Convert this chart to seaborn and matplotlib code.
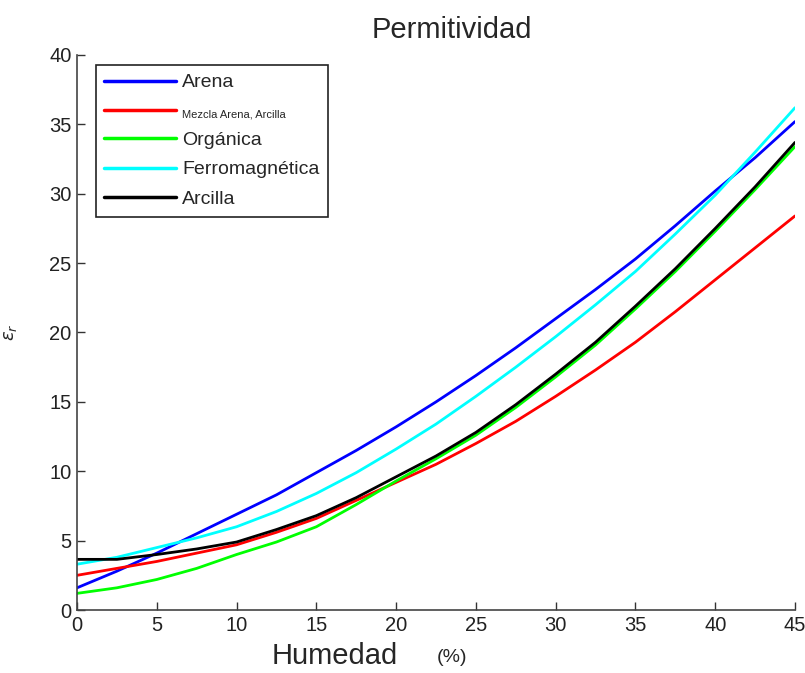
import numpy as np
import matplotlib
matplotlib.use('Agg')
import matplotlib.pyplot as plt
import seaborn as sns
import pandas as pd

# humedad (%) y permitividad relativa por tipo de suelo
humedad = [0, 2.5, 5, 7.5, 10, 12.5, 15, 17.5, 20, 22.5, 25, 27.5, 30, 32.5, 35, 37.5, 40, 42.5, 45]
arena = [1.6, 2.8, 4.1, 5.5, 6.9, 8.3, 9.9, 11.5, 13.2, 15.0, 16.9, 18.9, 21.0, 23.1, 25.3, 27.7, 30.2, 32.6, 35.2]
mezcla = [2.5, 3.0, 3.5, 4.1, 4.7, 5.6, 6.6, 7.9, 9.2, 10.5, 12.0, 13.6, 15.4, 17.3, 19.3, 21.5, 23.8, 26.1, 28.4]
organica = [1.2, 1.6, 2.2, 3.0, 4.0, 4.9, 6.0, 7.6, 9.3, 10.9, 12.6, 14.6, 16.8, 19.1, 21.7, 24.4, 27.3, 30.3, 33.4]
ferro = [3.3, 3.8, 4.5, 5.2, 6.0, 7.1, 8.4, 9.9, 11.6, 13.4, 15.4, 17.5, 19.7, 22.0, 24.4, 27.1, 29.9, 33.0, 36.2]
arcilla = [3.65, 3.65, 4.0, 4.4, 4.9, 5.8, 6.8, 8.1, 9.6, 11.1, 12.8, 14.8, 17.0, 19.3, 21.9, 24.6, 27.5, 30.5, 33.7]

SERIES = {'Arena': arena, 'Mezcla Arena, Arcilla': mezcla, 'Orgánica': organica,
          'Ferromagnética': ferro, 'Arcilla': arcilla}
COLORS = {'Arena': '#0000ff', 'Mezcla Arena, Arcilla': '#ff0000', 'Orgánica': '#00ff00',
          'Ferromagnética': '#00ffff', 'Arcilla': '#000000'}

rows = []
for name, vals in SERIES.items():
    for h, v in zip(humedad, vals):
        rows.append({'Humedad': h, 'eps': v, 'Suelo': name})
data = pd.DataFrame(rows)

sns.set_theme(style='white')
plt.rcParams['font.family'] = ['Liberation Sans', 'DejaVu Sans']
plt.rcParams['xtick.direction'] = 'in'
plt.rcParams['ytick.direction'] = 'in'

fig = plt.figure(figsize=(8.05, 6.73), dpi=100)
ax = fig.add_axes([0.0957, 0.0936, 0.8919, 0.8247])

sns.lineplot(data=data, x='Humedad', y='eps', hue='Suelo', palette=COLORS,
             linewidth=2.0, ax=ax, legend=True)

ax.set_xlim(0, 45)
ax.set_ylim(0, 40)
ax.set_xticks(np.arange(0, 46, 5))
ax.set_yticks(np.arange(0, 41, 5))
ax.tick_params(axis='both', labelsize=14.5, length=6, width=1, color='#333333',
               labelcolor='#222222', bottom=True, left=True, pad=4)
for s in ['top', 'right']:
    ax.spines[s].set_visible(False)
for s in ['left', 'bottom']:
    ax.spines[s].set_color('#444444')
    ax.spines[s].set_linewidth(1.2)

ax.set_xlabel('')
ax.set_ylabel(r'$\epsilon_r$', fontsize=13, family='DejaVu Sans', labelpad=22)

fig.text(0.5615, 0.955, 'Permitividad', ha='center', va='center', fontsize=21)
fig.text(0.4155, 0.004, 'Humedad', ha='center', va='bottom', fontsize=21)
fig.text(0.562, 0.017, '(%)', ha='center', va='baseline', fontsize=14)

handles, labels = ax.get_legend_handles_labels()
leg = ax.legend(handles, labels, loc='upper left', bbox_to_anchor=(0.026, 0.982),
                fontsize=14, frameon=True, fancybox=False, edgecolor='#222222',
                framealpha=1, handlelength=3.7, handletextpad=0.3, labelspacing=0.62,
                borderpad=0.45, borderaxespad=0)
leg.get_frame().set_linewidth(1.2)
for line in leg.get_lines():
    line.set_linewidth(2.5)
leg.get_texts()[1].set_fontsize(8)

fig.savefig('out.png', dpi=100)
